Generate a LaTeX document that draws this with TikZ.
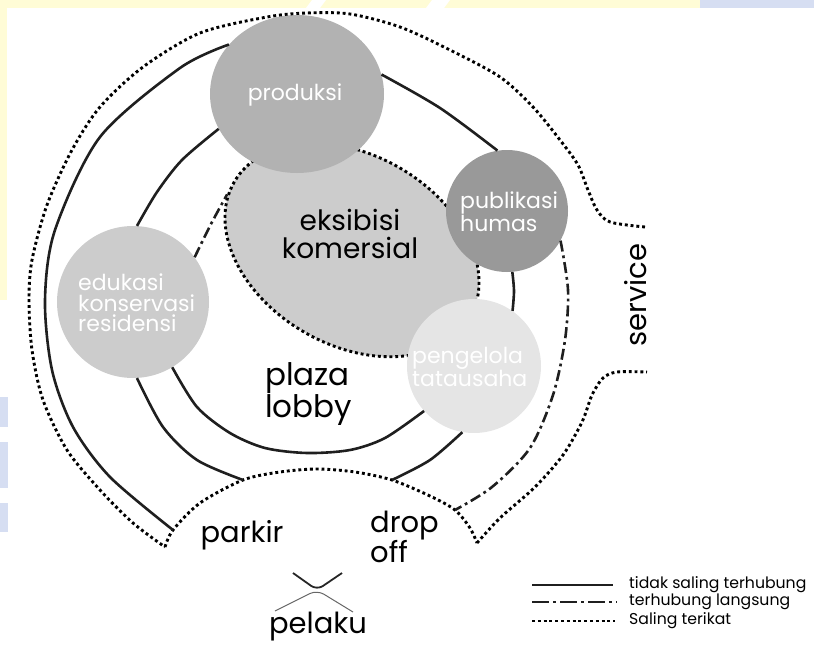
\documentclass[tikz,border=0pt]{standalone}
\usepackage{fontspec}
\setmainfont{Poppins}
\usetikzlibrary{shapes.geometric}
\definecolor{cProd}{gray}{0.70}
\definecolor{cPub}{gray}{0.60}
\definecolor{cEdu}{gray}{0.80}
\definecolor{cEks}{gray}{0.80}
\definecolor{cPen}{gray}{0.90}
\definecolor{wmY}{RGB}{255,252,214}
\definecolor{wmB}{RGB}{214,222,242}
\newcommand{\fsCirc}{\fontsize{22pt}{20.5pt}\selectfont}
\newcommand{\fsBig}{\fontsize{28pt}{28pt}\selectfont}
\newcommand{\fsPlaza}{\fontsize{31pt}{28pt}\selectfont}
\newcommand{\fsLab}{\fontsize{29pt}{29pt}\selectfont}
\newcommand{\fsLeg}{\fontsize{15.7pt}{17pt}\selectfont}
\begin{document}
\begin{tikzpicture}[x=1pt,y=-1pt,
  solidring/.style={line width=2.6pt, draw=black!88},
  ddring/.style={line width=2.6pt, draw=black!88, dash pattern=on 11pt off 4pt on 2.8pt off 4pt},
  dotring/.style={line width=2.9pt, draw=black, dash pattern=on 2.9pt off 2.9pt},
  blob/.style={ellipse, draw=none, inner sep=0pt},
  intext/.style={text=white, align=left, inner sep=0pt},
  bigtext/.style={text=black, align=left, inner sep=0pt},
  legtext/.style={text=black, anchor=west, inner sep=0pt, font=\fsLeg},
]
\useasboundingbox (0,0) rectangle (814,645);
% faint watermark at the edges
\fill[wmY] (0,0) rectangle (700,8);
\fill[wmB] (700,0) rectangle (814,8);
\fill[wmY] (0,0) rectangle (7,300);
\fill[wmB] (0,397) rectangle (8,427);
\fill[wmB] (0,442) rectangle (8,488);
\fill[wmB] (0,503) rectangle (8,532);
\fill[white] (312,0) -- (326,0) -- (320,8) -- (306,8) -- cycle;
\fill[white] (432,0) -- (450,0) -- (444,8) -- (426,8) -- cycle;

% boundary coordinates
\coordinate (cL1) at (165,547);
\coordinate (cL2) at (173,530);
\coordinate (cAL) at (243,480);
\coordinate (cAR) at (392,480);
\coordinate (cR2) at (455,510);
\coordinate (cR1) at (477,543);
\coordinate (svcTop) at (645,227);
\coordinate (svcBot) at (647,372);

% zones (circles)
\node[blob, fill=cEks, draw=black, dotring, minimum width=272pt, minimum height=190pt, rotate=-30] (eksibisi) at (352,250) {};
\node[blob, fill=cProd, minimum width=174pt, minimum height=158pt] (produksi) at (297,94) {};
\node[blob, fill=cPub, minimum size=122pt] (publikasi) at (507,211) {};
\node[blob, fill=cEdu, minimum size=152pt] (edukasi) at (133,302) {};
\node[blob, fill=cPen, minimum size=134pt] (pengelola) at (474,366) {};

% outer dotted boundary
\draw[dotring] plot[smooth] coordinates {(svcTop) (610,222) (597,210) (588,190) (578,165) (560,140) (533,107) (500,77) (450,50) (400,27) (350,14) (307,13) (267,17) (200,33) (143,67) (100,107) (72,150) (47,205) (32,260) (29,300) (32,350) (43,400) (67,450) (100,490) (133,523) (cL1)};
\draw[dotring] plot[smooth] coordinates {(cL1) (cL2) (200,503) (cAL) (280,472) (317,469) (355,472) (cAR) (430,496) (cR2) (470,528) (cR1)};
\draw[dotring] plot[smooth] coordinates {(cR1) (500,518) (535,487) (563,455) (582,422) (592,395) (603,378) (617,372) (svcBot)};

% ring 3 (outer)
\draw[solidring] plot[smooth] coordinates {(produksi.144) (180,68) (100,137) (55,230) (45,300) (52,370) (73,427) (110,477) (cL2)};
\draw[solidring] plot[smooth] coordinates {(produksi.13) (440,108) (publikasi.99)};
\draw[ddring] plot[smooth] coordinates {(publikasi.331) (568,290) (565,340) (553,395) (530,448) (492,487) (cR2)};
% ring 2 (middle)
\draw[solidring] plot[smooth] coordinates {(produksi.204) (182,160) (157,192) (edukasi.87)};
\draw[solidring] plot[smooth] coordinates {(edukasi.273) (163,427) (197,460) (cAL)};
\draw[solidring] plot[smooth] coordinates {(publikasi.275) (514,291) (pengelola.55)};
\draw[solidring] plot[smooth] coordinates {(pengelola.260) (430,460) (cAR)};
% ring 1 (inner)
\draw[solidring] plot[smooth] coordinates {(edukasi.301) (197,407) (230,433) (265,448) (307,453) (350,450) (385,438) (pengelola.222)};
\draw[ddring] plot[smooth] coordinates {(edukasi.36) (211,224) (eksibisi.186)};

% labels
\node[intext, font=\fsCirc] (produksiLbl) at (295,95) {produksi};
\node[intext, anchor=west, font=\fsCirc] (publikasiLbl) at (460,212) {publikasi\\humas};
\node[intext, anchor=west, font=\fsCirc] (edukasiLbl) at (78,303) {edukasi\\konservasi\\residensi};
\node[intext, anchor=west, font=\fsCirc] (pengelolaLbl) at (412,367) {pengelola\\tatausaha};
\node[bigtext, align=center, font=\fsBig] (eksibisiLbl) at (350,234) {eksibisi\\komersial};
\node[bigtext, anchor=west, font=\fsPlaza] (plazaLbl) at (265,394) {plaza\\lobby};
\node[bigtext, font=\fsLab] (parkirLbl) at (242,535) {parkir};
\node[bigtext, anchor=west, font=\fsLab] (dropLbl) at (370,537) {drop\\off};
\node[bigtext, font=\fsLab, rotate=90] (serviceLbl) at (636,295) {service};
\node[bigtext, font=\fsLab] (pelakuLbl) at (318,627) {pelaku};

% pelaku symbol
\coordinate (symA) at (293,573);
\coordinate (symB) at (342,573);
\coordinate (symM) at (317,590);
\coordinate (symC) at (275,611);
\coordinate (symD) at (353,612);
\draw[line width=1.8pt, black!85, rounded corners=7pt] (symA) -- (symM) -- (symB);
\draw[line width=1pt, black!60, rounded corners=8pt] (symC) -- (symM) -- (symD);

% legend
\coordinate (lg1a) at (532,585); \coordinate (lg1b) at (613,585);
\coordinate (lg2a) at (532,602); \coordinate (lg2b) at (617,602);
\coordinate (lg3a) at (532,621); \coordinate (lg3b) at (615,621);
\draw[solidring] (lg1a) -- (lg1b);
\draw[ddring, dash pattern=on 17pt off 4pt on 3pt off 4pt] (lg2a) -- (lg2b);
\draw[dotring] (lg3a) -- (lg3b);
\node[legtext] (leg1) at (629,585) {tidak saling terhubung};
\node[legtext] (leg2) at (629,602) {terhubung langsung};
\node[legtext] (leg3) at (629,621) {Saling terikat};
\end{tikzpicture}
\end{document}
